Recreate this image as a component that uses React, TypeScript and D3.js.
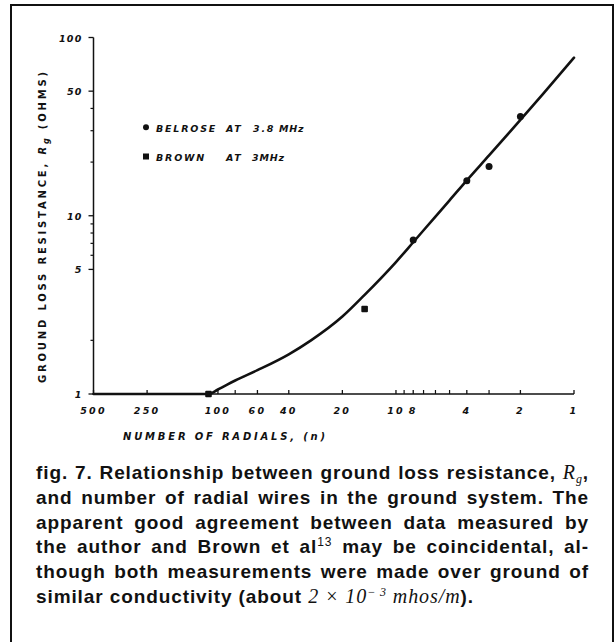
import React, { useLayoutEffect, useRef, useState } from 'react';
import * as d3 from 'd3';

const W = 616;
const H = 642;

// Fitted curve (number of radials -> ground loss resistance, ohms)
const curveN = [500, 113, 100, 80, 60, 40, 30, 20, 15, 10, 8, 6, 5, 4, 3, 2, 1.5, 1];
const curveR = [1, 1, 1.06, 1.19, 1.36, 1.67, 2.0, 2.72, 3.6, 5.5, 7.1, 9.9, 12.2, 15.8, 21.8, 34.5, 48, 77];

// Measured points
const belroseN = [2, 3, 4, 8];
const belroseR = [36, 18.9, 15.7, 7.3];
const brownN = [15, 113];
const brownR = [3.0, 1.0];

// Axes
const xTickLabels = [500, 250, 100, 60, 40, 20, 10, 8, 4, 2, 1];
const xMinorTicks = [80, 9, 7, 6, 5, 3];
const yTickLabels = [100, 50, 10, 5, 1];
const yMinorTicks = [40, 30, 20, 9, 8, 7, 6, 2];

const xTitle = 'NUMBER OF RADIALS, (n)';
const legendBelrose = ['BELROSE', 'AT', '3.8', 'MHz'];
const legendBrown = ['BROWN', 'AT', '3MHz'];

type Seg = { t: string; serif?: boolean; sub?: boolean; sup?: boolean };
const captionLines: Seg[][] = [
  [{ t: 'fig. 7. Relationship between ground loss resistance, ' }, { t: 'R', serif: true }, { t: 'g', serif: true, sub: true }, { t: ',' }],
  [{ t: 'and number of radial wires in the ground system. The' }],
  [{ t: 'apparent good agreement between data measured by' }],
  [{ t: 'the author and Brown et al' }, { t: '13', sup: true }, { t: ' may be coincidental, al-' }],
  [{ t: 'though both measurements were made over ground of' }],
  [{ t: 'similar conductivity (about ' }, { t: '2 × 10', serif: true }, { t: '− 3', serif: true, sup: true }, { t: ' mhos/m', serif: true }, { t: ').' }],
];

const CHART_FONT = '"DejaVu Sans", sans-serif';
const CAPTION_FONT = '"Liberation Sans", Arial, sans-serif';
const SERIF = '"Liberation Serif", "DejaVu Serif", serif';

export default function App() {
  const x = d3.scaleLog().domain([500, 1]).range([93.5, 574]);
  const y = d3.scaleLog().domain([1, 100]).range([394, 37.5]);

  const curvePts: [number, number][] = curveN.map((n, i) => [x(n), y(curveR[i])]);
  const line = d3.line().curve(d3.curveMonotoneX);
  const curvePath = line(curvePts) || '';

  const capLeft = 36;
  const capRight = 589;
  const capBase = 479;
  const capStep = 24.8;

  const lineRefs = useRef<(SVGTextElement | null)[]>([]);
  const [spacings, setSpacings] = useState<number[]>(captionLines.map(() => 0));

  useLayoutEffect(() => {
    const next = captionLines.map((segs, i) => {
      if (i === captionLines.length - 1) return 0;
      const el = lineRefs.current[i];
      if (!el) return 0;
      el.style.wordSpacing = '0px';
      const nat = el.getComputedTextLength();
      const text = segs.map((s) => s.t).join('');
      const spaces = (text.match(/ /g) || []).length;
      return spaces > 0 ? Math.max(0, (capRight - capLeft - nat) / spaces) : 0;
    });
    setSpacings(next);
  }, []);

  const axisY = y(1);
  const axisX = x(500);
  const ink = '#111';

  return (
    <svg width={W} height={H} style={{ position: 'absolute', left: 0, top: 0, background: '#fff' }}>
      <rect x={0} y={0} width={W} height={H} fill="#fff" />
      {/* frame */}
      <path d={`M11,${H + 5} V5 H613 V${H + 5}`} fill="none" stroke={ink} strokeWidth={2} />

      {/* axes */}
      <line x1={axisX} y1={y(100)} x2={axisX} y2={axisY} stroke={ink} strokeWidth={1.5} />
      <line x1={axisX} y1={axisY} x2={x(1)} y2={axisY} stroke={ink} strokeWidth={1.5} />

      {/* y ticks */}
      {yTickLabels.map((v) => (
        <g key={'yl' + v}>
          <line x1={axisX - 5} x2={axisX} y1={y(v)} y2={y(v)} stroke={ink} strokeWidth={1.3} />
          <text x={axisX - 11} y={y(v) + 4} textAnchor="end" fontFamily={CHART_FONT} fontStyle="italic" fontWeight="bold" fontSize={9.5} letterSpacing={1.2} fill={ink}>
            {v}
          </text>
        </g>
      ))}
      {yMinorTicks.map((v) => (
        <line key={'ym' + v} x1={axisX - 3} x2={axisX} y1={y(v)} y2={y(v)} stroke={ink} strokeWidth={1.2} />
      ))}

      {/* x ticks */}
      {xTickLabels.map((v) => (
        <g key={'xl' + v}>
          <line x1={x(v)} x2={x(v)} y1={axisY - 4} y2={axisY} stroke={ink} strokeWidth={1.3} />
          <text x={x(v)} y={axisY + 20} textAnchor="middle" fontFamily={CHART_FONT} fontStyle="italic" fontWeight="bold" fontSize={9.5} letterSpacing={2.2} fill={ink}>
            {v}
          </text>
        </g>
      ))}
      {xMinorTicks.map((v) => (
        <line key={'xm' + v} x1={x(v)} x2={x(v)} y1={axisY - 4} y2={axisY} stroke={ink} strokeWidth={1.2} />
      ))}

      {/* axis titles */}
      <text x={123} y={439.5} fontFamily={CHART_FONT} fontStyle="italic" fontWeight="bold" fontSize={10} textLength={202} lengthAdjust="spacing" fill={ink}>
        {xTitle}
      </text>
      <text transform="translate(46,227.5) rotate(-90)" textAnchor="middle" fontFamily={CHART_FONT} fontWeight="bold" fontSize={10} fill={ink} textLength={311} lengthAdjust="spacing">
        <tspan>GROUND LOSS RESISTANCE, </tspan>
        <tspan fontStyle="italic">R</tspan>
        <tspan fontStyle="italic" fontSize={8} dy={3}>g</tspan>
        <tspan dy={-3}> (OHMS)</tspan>
      </text>

      {/* legend */}
      <circle cx={146} cy={127.3} r={3} fill={ink} />
      <text y={131.5} fontFamily={CHART_FONT} fontStyle="italic" fontWeight="bold" fontSize={9.5} letterSpacing={1.8} fill={ink}>
        <tspan x={156}>{legendBelrose[0]}</tspan>
        <tspan x={226}>{legendBelrose[1]}</tspan>
        <tspan x={253}>{legendBelrose[2]}</tspan>
        <tspan x={279} letterSpacing={0.8}>{legendBelrose[3]}</tspan>
      </text>
      <rect x={143} y={153.5} width={6} height={6} fill={ink} />
      <text y={160.8} fontFamily={CHART_FONT} fontStyle="italic" fontWeight="bold" fontSize={9.5} letterSpacing={1.8} fill={ink}>
        <tspan x={156}>{legendBrown[0]}</tspan>
        <tspan x={226}>{legendBrown[1]}</tspan>
        <tspan x={252} letterSpacing={0.8}>{legendBrown[2]}</tspan>
      </text>

      {/* curve */}
      <path d={curvePath} fill="none" stroke={ink} strokeWidth={2.6} strokeLinejoin="round" strokeLinecap="round" />

      {/* data points */}
      {belroseN.map((n, i) => (
        <circle key={'b' + n} cx={x(n)} cy={y(belroseR[i])} r={3.5} fill={ink} />
      ))}
      {brownN.map((n, i) => (
        <rect key={'br' + n} x={x(n) - 3.3} y={y(brownR[i]) - 3.3} width={6.6} height={6.6} rx={1} fill={ink} />
      ))}

      {/* caption */}
      {captionLines.map((segs, i) => (
        <text
          key={'cap' + i}
          ref={(el) => {
            lineRefs.current[i] = el;
          }}
          x={capLeft}
          y={capBase + i * capStep}
          fontFamily={CAPTION_FONT}
          fontWeight="bold"
          fontSize={19}
          letterSpacing={0.9}
          fill={ink}
          style={{ wordSpacing: spacings[i] + 'px', whiteSpace: 'pre' }}
        >
          {segs.map((s, j) => {
            const dy = s.sub ? 4 : s.sup ? -7 : 0;
            const prev = j > 0 ? segs[j - 1] : null;
            const back = prev && (prev.sub ? -4 : prev.sup ? 7 : 0);
            return (
              <tspan
                key={j}
                dy={(back || 0) + dy || undefined}
                fontFamily={s.serif ? SERIF : undefined}
                fontStyle={s.serif ? 'italic' : undefined}
                fontWeight={s.serif || s.sup ? 'normal' : undefined}
                fontSize={s.sub || s.sup ? 12 : s.serif ? 20 : undefined}
              >
                {s.t}
              </tspan>
            );
          })}
        </text>
      ))}
    </svg>
  );
}
